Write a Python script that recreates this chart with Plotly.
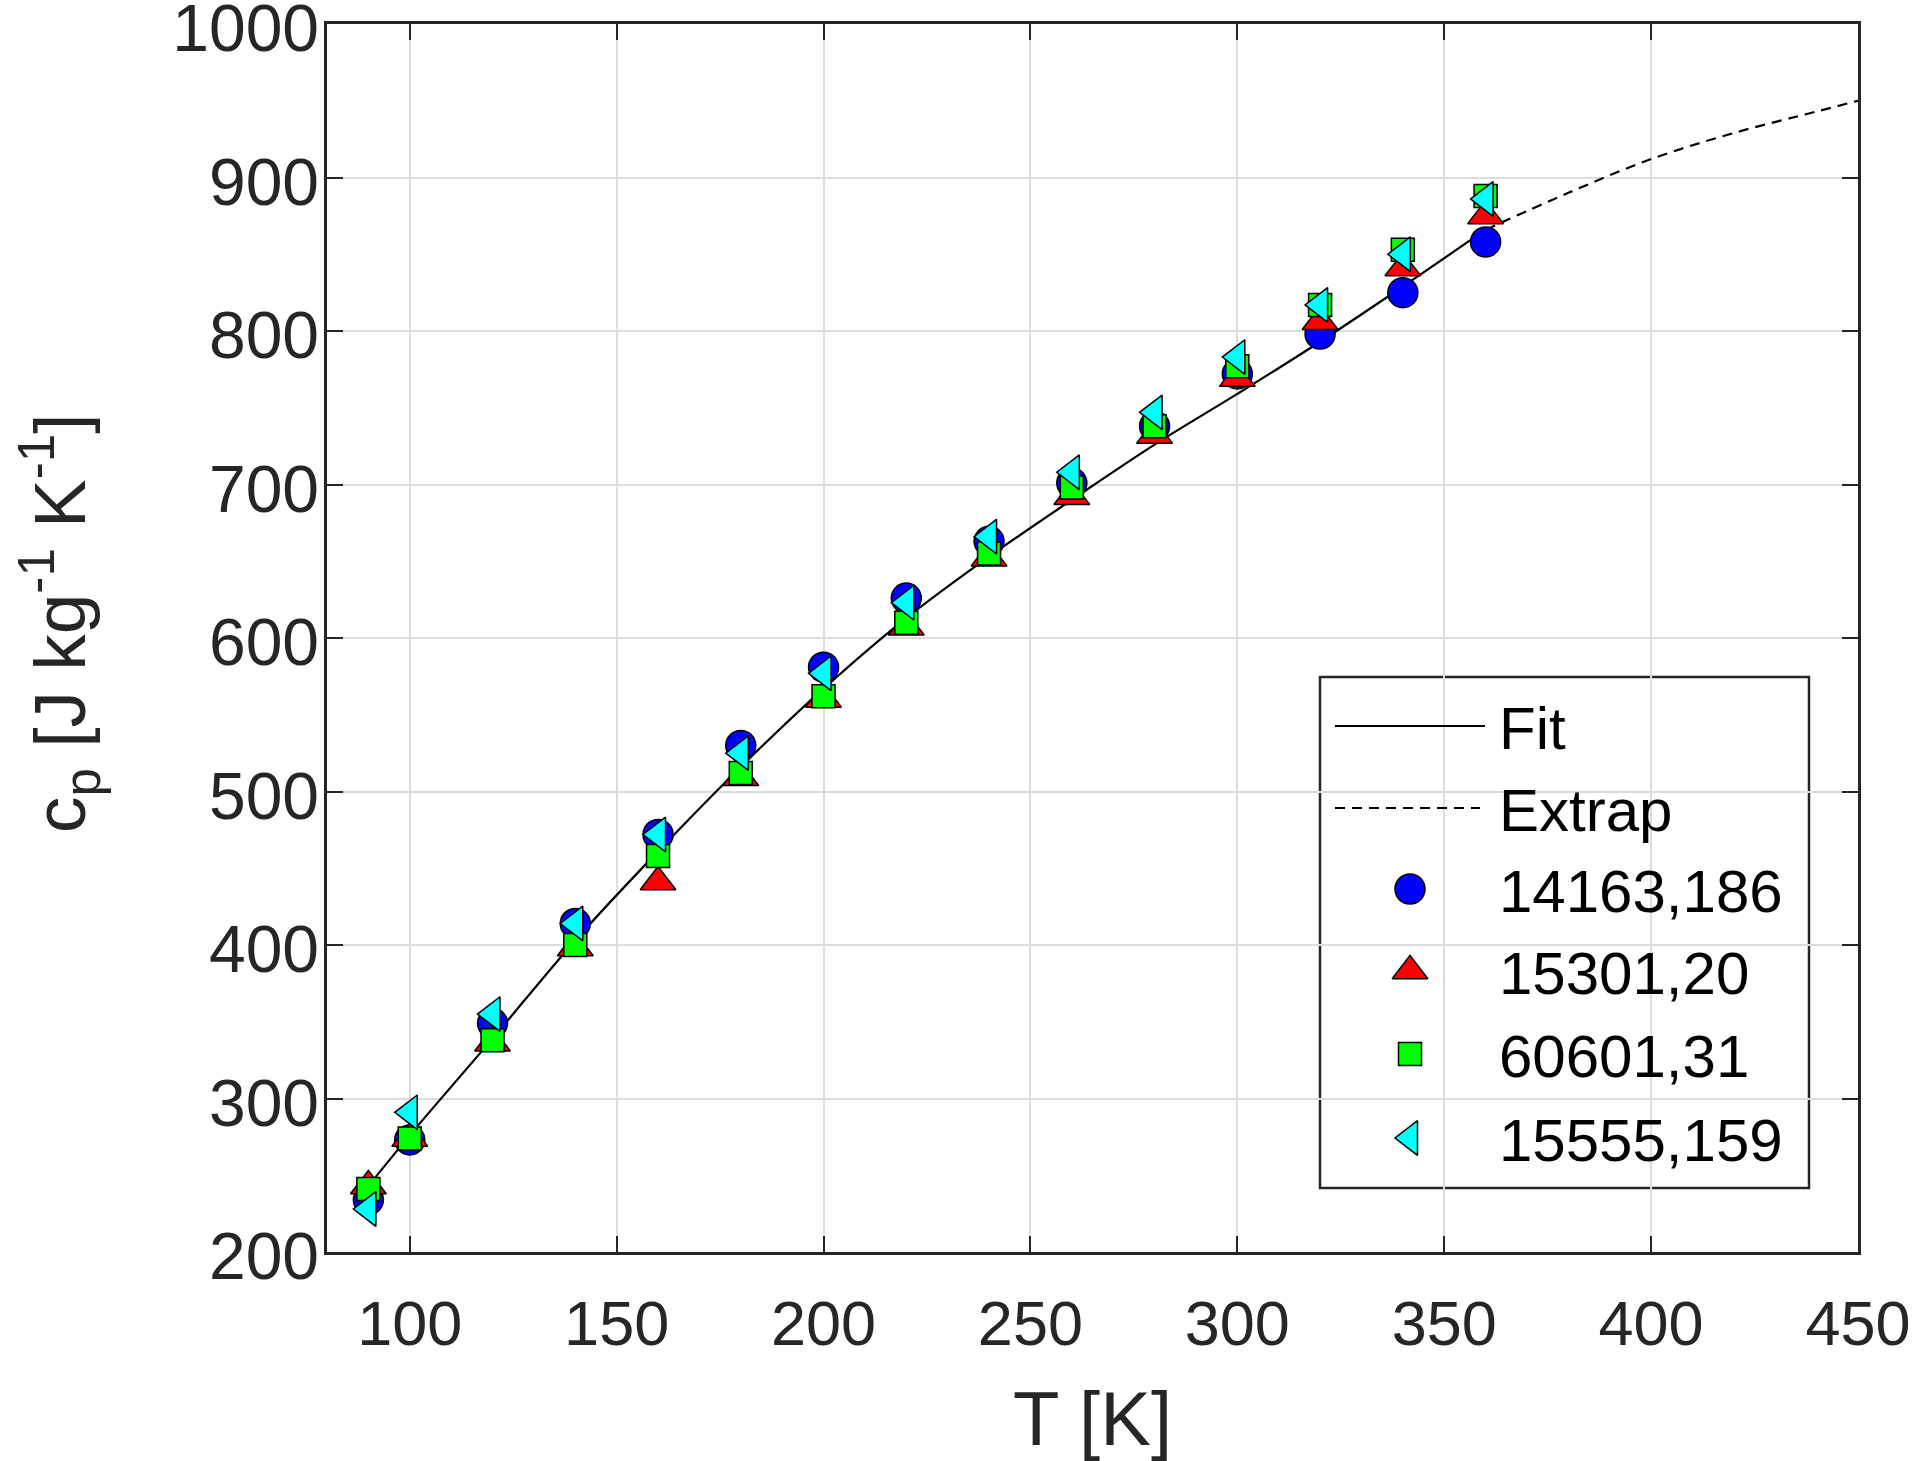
import plotly.graph_objects as go

# ---------------- data ----------------
T = [90, 100, 120, 140, 160, 180, 200, 220, 240, 260, 280, 300, 320, 340, 360]
cp_14163 = [234, 273, 349, 414, 472, 530, 581, 626, 663, 701, 738, 772, 798, 825, 858]
cp_15301 = [243, 274, 336, 398, 441, 509, 560, 607, 652, 692, 732, 769, 806, 841, 875]
cp_60601 = [241, 274, 338, 400, 458, 512, 562, 610, 655, 698, 738, 777, 817, 853, 888]
cp_15555 = [228, 291, 355, 414, 472, 525, 577, 623, 666, 708, 747, 783, 817, 850, 886]

fit_T = [90, 100, 120, 140, 160, 180, 200, 220, 240, 260, 280, 300, 320, 340, 360]
fit_cp = [243, 276, 339, 403, 461, 516, 567, 613, 653, 690, 726, 759, 793, 829, 866]
extrap_T = [360, 380, 400, 420, 440, 450]
extrap_cp = [866, 890, 912, 929, 943, 950]

series_names = ["14163,186", "15301,20", "60601,31", "15555,159"]
series_colors = ["#0000ff", "#ff0000", "#00ff00", "#00ffff"]
series_symbols = ["circle", "triangle-up", "square", "triangle-left"]
series_sizes = [30, 31, 23, 30]
series_values = [cp_14163, cp_15301, cp_60601, cp_15555]

x_ticks = [100, 150, 200, 250, 300, 350, 400, 450]
y_ticks = [200, 300, 400, 500, 600, 700, 800, 900, 1000]

FONT = "Liberation Sans, Arial, Helvetica, sans-serif"
INK = "#262626"

FIG_W, FIG_H = 1914, 1461
L, R, TOP, BOT = 327, 1858, 24, 1252
W, H = R - L, BOT - TOP


def px(x_page):
    return (x_page - L) / W


def py(y_page):
    return (BOT - y_page) / H


fig = go.Figure()

fig.add_trace(go.Scatter(x=fit_T, y=fit_cp, mode="lines", name="Fit",
                         line=dict(color="black", width=2.2, shape="spline"),
                         showlegend=False))
fig.add_trace(go.Scatter(x=extrap_T, y=extrap_cp, mode="lines", name="Extrap",
                         line=dict(color="black", width=2.2, dash="10px,7px", shape="spline"),
                         showlegend=False))
for name, col, sym, sz, vals in zip(series_names, series_colors, series_symbols,
                                    series_sizes, series_values):
    fig.add_trace(go.Scatter(x=T, y=vals, mode="markers", name=name,
                             marker=dict(symbol=sym, size=sz, color=col,
                                         line=dict(color="black", width=1.5)),
                             showlegend=False))

# ---------------- custom legend (overlay axes spanning the plot area) ----------------
box = dict(x0=px(1320), x1=px(1809), y0=py(1188), y1=py(677))
row_y = [726, 808, 889, 971, 1054, 1138]
labels = ["Fit", "Extrap"] + series_names

shapes = [dict(type="rect", xref="paper", yref="paper", layer="between",
               fillcolor="white", line=dict(color=INK, width=2.5), **box)]
shapes.append(dict(type="line", xref="paper", yref="paper", x0=px(1335), x1=px(1485),
                   y0=py(row_y[0]), y1=py(row_y[0]), line=dict(color="black", width=2.2)))
shapes.append(dict(type="line", xref="paper", yref="paper", x0=px(1335), x1=px(1480),
                   y0=py(row_y[1]), y1=py(row_y[1]),
                   line=dict(color="black", width=2.2, dash="10px,7px")))

for name, col, sym, sz, ry in zip(series_names, series_colors, series_symbols,
                                  series_sizes, row_y[2:]):
    fig.add_trace(go.Scatter(x=[px(1410)], y=[py(ry)], mode="markers", xaxis="x2", yaxis="y2",
                             marker=dict(symbol=sym, size=sz, color=col,
                                         line=dict(color="black", width=1.5)),
                             showlegend=False, hoverinfo="skip", name=name))

annotations = []
for lab, ry in zip(labels, row_y):
    annotations.append(dict(text=lab, xref="paper", yref="paper", x=px(1497), y=py(ry + 2),
                            xanchor="left", yanchor="middle", showarrow=False,
                            font=dict(family=FONT, size=60, color="black")))

# y-axis title placed as a rotated annotation
annotations.append(dict(text="c<sub>p</sub> [J kg<sup>-1</sup> K<sup>-1</sup>]",
                        xref="paper", yref="paper", x=px(59), y=py(623),
                        xanchor="center", yanchor="middle", textangle=-90, showarrow=False,
                        font=dict(family=FONT, size=73, color=INK)))

fig.update_layout(
    template="none",
    width=FIG_W, height=FIG_H,
    margin=dict(l=L, r=FIG_W - R, t=TOP, b=FIG_H - BOT, pad=0, autoexpand=False),
    paper_bgcolor="white", plot_bgcolor="white",
    font=dict(family=FONT, color=INK),
    shapes=shapes, annotations=annotations,
    xaxis=dict(range=[80, 450], tickvals=x_ticks, ticks="inside", ticklen=16, tickwidth=2,
               tickcolor=INK, showline=True, linecolor=INK, linewidth=2.5, mirror="ticks",
               showgrid=True, gridcolor="#dcdcdc", gridwidth=2, zeroline=False,
               automargin=False, ticklabeloverflow="allow",
               tickfont=dict(family=FONT, size=63, color=INK), ticklabelstandoff=15,
               title=dict(text="T [K]", font=dict(family=FONT, size=76, color=INK), standoff=43)),
    yaxis=dict(range=[200, 1000], tickvals=y_ticks, ticks="inside", ticklen=16, tickwidth=2,
               tickcolor=INK, showline=True, linecolor=INK, linewidth=2.5, mirror="ticks",
               showgrid=True, gridcolor="#dcdcdc", gridwidth=2, zeroline=False,
               automargin=False, ticklabeloverflow="allow", ticklabelshift=4,
               tickfont=dict(family=FONT, size=66, color=INK), ticklabelstandoff=-8),
    xaxis2=dict(overlaying="x", anchor="y2", range=[0, 1], visible=False, automargin=False),
    yaxis2=dict(overlaying="y", anchor="x2", range=[0, 1], visible=False, automargin=False),
    showlegend=False,
)

fig.write_html("out.html", config={"displayModeBar": False},
               post_script="document.body.style.margin='0';document.body.style.padding='0';")
